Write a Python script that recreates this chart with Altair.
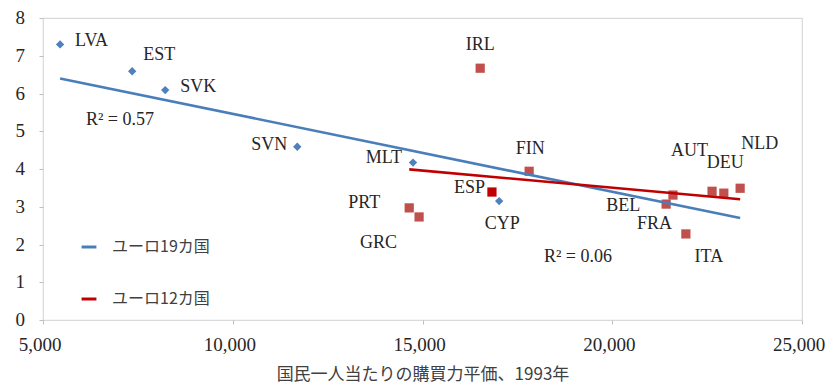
import altair as alt
import pandas as pd

# ---- data ----
countries = ["LVA", "EST", "SVK", "SVN", "MLT", "CYP",
             "IRL", "FIN", "ESP", "PRT", "GRC", "BEL", "FRA", "ITA", "AUT", "DEU", "NLD"]
ppp_1993 = [5450, 7350, 8220, 11700, 14750, 17020,
            16520, 17810, 16830, 14650, 14910, 21420, 21600, 21940, 22630, 22940, 23370]
values = [7.30, 6.59, 6.09, 4.59, 4.17, 3.15,
          6.67, 3.94, 3.39, 2.97, 2.73, 3.07, 3.31, 2.28, 3.41, 3.36, 3.49]
groups = ["new", "new", "new", "new", "new", "new",
          "orig", "orig", "orig", "orig", "orig", "orig", "orig", "orig", "orig", "orig", "orig"]

series_names = ["ユーロ19カ国", "ユーロ12カ国"]
trend19_x = [5450, 23370]
trend19_y = [6.40, 2.70]
trend12_x = [14650, 23370]
trend12_y = [3.99, 3.20]

r2_texts = ["R² = 0.57", "R² = 0.06"]
r2_x = [6130, 18200]
r2_y = [5.30, 1.68]

x_ticks = [5000, 10000, 15000, 20000, 25000]
x_tick_labels = ["5,000", "10,000", "15,000", "20,000", "25,000"]
y_ticks = [0, 1, 2, 3, 4, 5, 6, 7, 8]
y_tick_labels = ["0", "1", "2", "3", "4", "5", "6", "7", "8"]

x_title = "国民一人当たりの購買力平価、1993年"

# ---- styling (offsets for labels: dx, dy, align) ----
LABEL_STYLE = {
    "LVA": (15, -3, "left"), "EST": (11, -16, "left"), "SVK": (15, -3, "left"),
    "SVN": (-10, -2, "right"), "MLT": (-11, -5, "right"), "CYP": (3, 23, "center"),
    "IRL": (0, -23, "center"), "FIN": (1, -22, "center"), "ESP": (-7, -4, "right"),
    "PRT": (-29, -5, "right"), "GRC": (-22, 26, "right"), "BEL": (-26, 2, "right"),
    "FRA": (-1, 29, "right"), "ITA": (23, 23, "center"), "AUT": (-4, -40, "right"),
    "DEU": (-17, -30, "left"), "NLD": (1, -44, "left"),
}

pts = pd.DataFrame({"country": countries, "x": ppp_1993, "y": values, "grp": groups})
trend = pd.DataFrame({
    "series": [series_names[0]] * 2 + [series_names[1]] * 2,
    "x": trend19_x + trend12_x,
    "y": trend19_y + trend12_y,
})
r2 = pd.DataFrame({"label": r2_texts, "x": r2_x, "y": r2_y})
xlab = pd.DataFrame({"x": x_ticks, "y": [0] * len(x_ticks), "label": x_tick_labels})
ylab = pd.DataFrame({"x": [5000] * len(y_ticks), "y": y_ticks, "label": y_tick_labels})

SERIF = "Liberation Serif"
CJK = "Noto Sans CJK JP"
TXT = "#262626"

xs = alt.Scale(domain=[5000, 25000], nice=False, zero=False)
ys = alt.Scale(domain=[0, 8], nice=False)

axis_common = dict(grid=False, domain=False, tickSize=4, tickColor="#bfbfbf",
                   labels=False)

xenc = alt.X("x:Q", scale=xs, axis=alt.Axis(
    values=x_ticks, title=x_title,
    titleFont=CJK, titleFontSize=17, titleFontWeight="normal", titleColor="#404040",
    titlePadding=42, **axis_common))
yenc = alt.Y("y:Q", scale=ys, axis=alt.Axis(values=y_ticks, title=None, **axis_common))

base = alt.Chart(pts)

blue_pts = base.transform_filter("datum.grp == 'new'").mark_point(
    shape="diamond", filled=True, size=70, color="#4F81BD", opacity=1
).encode(x=xenc, y=yenc)

red_pts = base.transform_filter("datum.grp == 'orig'").mark_point(
    shape="square", filled=True, size=85, opacity=1
).encode(x=xenc, y=yenc,
         color=alt.condition("datum.country == 'ESP'", alt.value("#C00000"), alt.value("#C0504D")))

lines = alt.Chart(trend).mark_line(strokeWidth=2.6).encode(
    x=xenc,
    y=yenc,
    color=alt.Color("series:N",
                    scale=alt.Scale(domain=series_names, range=["#4A7EBB", "#C00000"]),
                    legend=alt.Legend(
                        title=None, orient="none", legendX=37, legendY=220,
                        symbolType="stroke", symbolSize=220, symbolStrokeWidth=3,
                        labelFont=CJK, labelFontSize=16, labelColor="#404040",
                        labelOffset=14, rowPadding=35, padding=0)),
    detail="series:N",
)

label_layers = []
for c in countries:
    dx, dy, al = LABEL_STYLE[c]
    label_layers.append(
        base.transform_filter(f"datum.country == '{c}'").mark_text(
            font=SERIF, fontSize=18, color=TXT, dx=dx, dy=dy, align=al,
            baseline="middle"
        ).encode(x=xenc, y=yenc, text="country:N")
    )

r2_layer = alt.Chart(r2).mark_text(
    font=SERIF, fontSize=18, color=TXT, align="left", baseline="middle"
).encode(x=xenc, y=yenc, text="label:N")

xlab_layer = alt.Chart(xlab).mark_text(
    font=SERIF, fontSize=19, color=TXT, align="center", baseline="middle", dy=25, dx=-3
).encode(x=xenc, y=yenc, text="label:N")

ylab_layer = alt.Chart(ylab).mark_text(
    font=SERIF, fontSize=19, color=TXT, align="right", baseline="middle", dx=-18
).encode(x=xenc, y=yenc, text="label:N")

chart = alt.layer(blue_pts, red_pts, lines, r2_layer, xlab_layer, ylab_layer,
                  *label_layers).properties(
    width=759, height=302,
    background="white",
    autosize=alt.AutoSizeParams(type="none"),
    padding={"left": 35, "top": 10, "right": 24, "bottom": 70},
).configure_view(
    stroke="#d9d9d9", strokeWidth=1.2, clip=False
).configure_axis(grid=False, domain=False)

chart.save("out.html", embed_options={"renderer": "svg", "actions": False})
